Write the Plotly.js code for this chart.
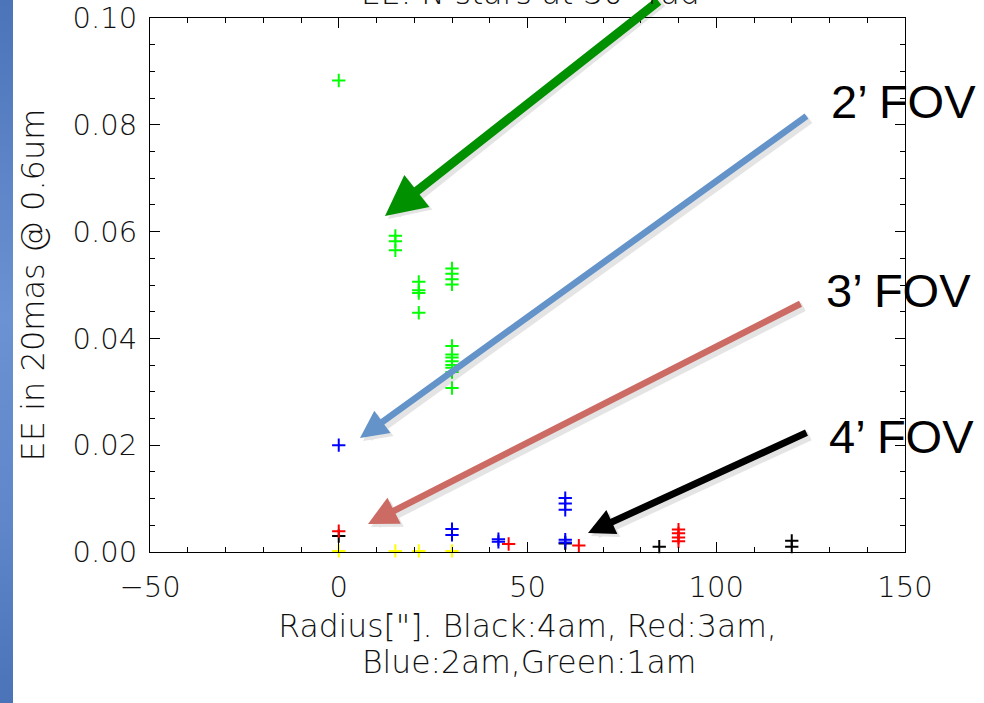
<!DOCTYPE html>
<html>
<head>
<meta charset="utf-8">
<script src="https://cdn.plot.ly/plotly-3.0.1.min.js"></script>
<style>
  html, body { margin: 0; padding: 0; background: #ffffff; }
  #wrap { position: relative; width: 984px; height: 703px; }
  #chart { position: absolute; left: 0; top: 0; width: 984px; height: 703px; }
  #strip { position: absolute; left: 0; top: 0; width: 13px; height: 703px;
           background: linear-gradient(to bottom, #4b74b9 0%, #6b92d2 45%, #5e86c9 75%, #4a73b8 100%); }
</style>
</head>
<body>
<div id="wrap">
  <div id="chart"></div>
  <div id="strip"></div>
</div>
<script>
// ---- data ----
const xGreen = [0, 15, 15, 15, 21.2, 21.2, 21.2, 21.2, 30, 30, 30, 30, 30, 30, 30, 30, 30, 30, 30, 30];
const yGreen = [0.0883, 0.0592, 0.0582, 0.0565, 0.0506, 0.0490, 0.0485, 0.0448,
                0.0531, 0.0521, 0.0511, 0.0501, 0.0386, 0.0370, 0.0364, 0.0357, 0.0350, 0.0345, 0.0337, 0.0307];

const xBlue = [0, 30, 30, 42.3, 42.3, 60, 60, 60, 60, 60];
const yBlue = [0.0200, 0.0043, 0.0032, 0.0024, 0.0019, 0.0101, 0.0091, 0.0079, 0.0023, 0.0018];

const xRed = [0, 45, 63.6, 90, 90, 90, 90];
const yRed = [0.0039, 0.0015, 0.0012, 0.0042, 0.0035, 0.0027, 0.0020];

const xBlack = [0, 60, 84.9, 120, 120];
const yBlack = [0.0030, 0.0016, 0.0010, 0.0021, 0.0010];

const xYellow = [0, 15, 21.2, 30];
const yYellow = [0.0002, 0.0002, 0.0002, 0.0002];

const xTicks = [-50, 0, 50, 100, 150];
const yTicks = [0.00, 0.02, 0.04, 0.06, 0.08, 0.10];

const xTitleLine1 = 'Radius["]. Black:4am, Red:3am,';
const xTitleLine2 = 'Blue:2am,Green:1am';
const yTitle = 'EE in 20mas @ 0.6um';
const topTitle = 'EE: N stars at 30" rad';
const fovLabels = ['2\u2019 FOV', '3\u2019 FOV', '4\u2019 FOV'];

// ---- layout helpers ----
const W = 984, H = 703;
const M = {l: 150, r: 79, t: 18, b: 151};
const xRange = [-50, 150], yRange = [0, 0.10];
const pw = W - M.l - M.r, ph = H - M.t - M.b;
function dx(px) { return xRange[0] + (px - M.l) / pw * (xRange[1] - xRange[0]); }
function dy(py) { return yRange[0] + (M.t + ph - py) / ph * (yRange[1] - yRange[0]); }
function paperX(px) { return (px - M.l) / pw; }
function paperY(py) { return (M.t + ph - py) / ph; }

const FAM = 'DejaVu Sans ExtraLight, DejaVu Sans, sans-serif';
const tickFont = {family: FAM, size: 29, color: '#111', weight: 200};
const xTitleFont = {family: FAM, size: 31.4, color: '#111', weight: 200};
const yTitleFont = {family: FAM, size: 32, color: '#111', weight: 200};
const fovFont = {family: 'Liberation Sans, Arial, sans-serif', size: 47, color: '#000'};

function series(x, y, color, name) {
  return {
    x: x, y: y, type: 'scatter', mode: 'markers', name: name,
    marker: {symbol: 'cross-thin', size: 9.5, color: color, line: {color: color, width: 2}},
    cliponaxis: false, hoverinfo: 'x+y'
  };
}

const traces = [
  series(xBlack, yBlack, '#000000', 'Black: 4am'),
  series(xRed, yRed, '#ff0000', 'Red: 3am'),
  series(xBlue, yBlue, '#0000ff', 'Blue: 2am'),
  series(xGreen, yGreen, '#00ff00', 'Green: 1am'),
  series(xYellow, yYellow, '#ffff00', 'Yellow')
];

// arrows: tip pixel, tail pixel (with a soft drop shadow underneath)
function arrow(tip, tail, color, width, size, off) {
  const o = off || 0;
  return {
    x: dx(tip[0] + o), y: dy(tip[1] + o), xref: 'x', yref: 'y',
    ax: tail[0] - tip[0], ay: tail[1] - tip[1],
    text: '', showarrow: true, arrowhead: 2, arrowsize: size, arrowwidth: width,
    arrowcolor: color
  };
}
const arrowSpecs = [
  {tip: [385, 216], tail: [660, -14], color: '#009000', w: 9, s: 0.9},
  {tip: [360, 438], tail: [808, 115], color: '#6393c8', w: 6.5, s: 0.85},
  {tip: [368, 524], tail: [802, 303], color: '#cc6a64', w: 6.5, s: 0.9},
  {tip: [588, 533], tail: [808, 432], color: '#000000', w: 7, s: 0.75}
];

const annotations = [];
arrowSpecs.forEach(a => annotations.push(arrow(a.tip, a.tail, 'rgba(0,0,0,0.10)', a.w + 3, a.s * a.w / (a.w + 3), 3)));
arrowSpecs.forEach(a => annotations.push(arrow(a.tip, a.tail, a.color, a.w, a.s, 0)));

annotations.push(
  {x: paperX(829), y: paperY(101), xref: 'paper', yref: 'paper', xanchor: 'left', yanchor: 'middle',
   text: fovLabels[0], showarrow: false, font: fovFont},
  {x: paperX(824), y: paperY(290), xref: 'paper', yref: 'paper', xanchor: 'left', yanchor: 'middle',
   text: fovLabels[1], showarrow: false, font: fovFont},
  {x: paperX(827), y: paperY(436), xref: 'paper', yref: 'paper', xanchor: 'left', yanchor: 'middle',
   text: fovLabels[2], showarrow: false, font: fovFont},
  {x: paperX(530), y: paperY(13), xref: 'paper', yref: 'paper', xanchor: 'center', yanchor: 'bottom',
   text: topTitle, showarrow: false, font: xTitleFont},
  {x: paperX(529), y: paperY(662), xref: 'paper', yref: 'paper', xanchor: 'center', yanchor: 'middle',
   text: xTitleLine2, showarrow: false, font: xTitleFont}
);

const layout = {
  width: W, height: H,
  margin: M,
  paper_bgcolor: '#ffffff', plot_bgcolor: '#ffffff',
  showlegend: false,
  xaxis: {
    range: xRange, tickvals: xTicks, ticktext: xTicks.map(v => v < 0 ? '\u2212' + Math.abs(v) : String(v)),
    ticks: 'inside', ticklen: 10, tickwidth: 1, tickcolor: '#000',
    minor: {dtick: 10, ticks: 'inside', ticklen: 5, tickwidth: 1, tickcolor: '#000', showgrid: false},
    showline: true, linecolor: '#000', linewidth: 1, mirror: 'allticks',
    showgrid: false, zeroline: false,
    tickfont: tickFont, ticklabelstandoff: 9,
    title: {text: xTitleLine1, font: xTitleFont, standoff: 12}
  },
  yaxis: {
    range: yRange, tickvals: yTicks, ticktext: yTicks.map(v => v.toFixed(2)),
    ticks: 'inside', ticklen: 10, tickwidth: 1, tickcolor: '#000',
    minor: {dtick: 0.005, ticks: 'inside', ticklen: 5, tickwidth: 1, tickcolor: '#000', showgrid: false},
    showline: true, linecolor: '#000', linewidth: 1, mirror: 'allticks',
    showgrid: false, zeroline: false,
    tickfont: tickFont, ticklabelstandoff: 6,
    title: {text: yTitle, font: yTitleFont, standoff: 18}
  },
  annotations: annotations
};

Plotly.newPlot('chart', traces, layout, {staticPlot: true, displayModeBar: false});
</script>
</body>
</html>
